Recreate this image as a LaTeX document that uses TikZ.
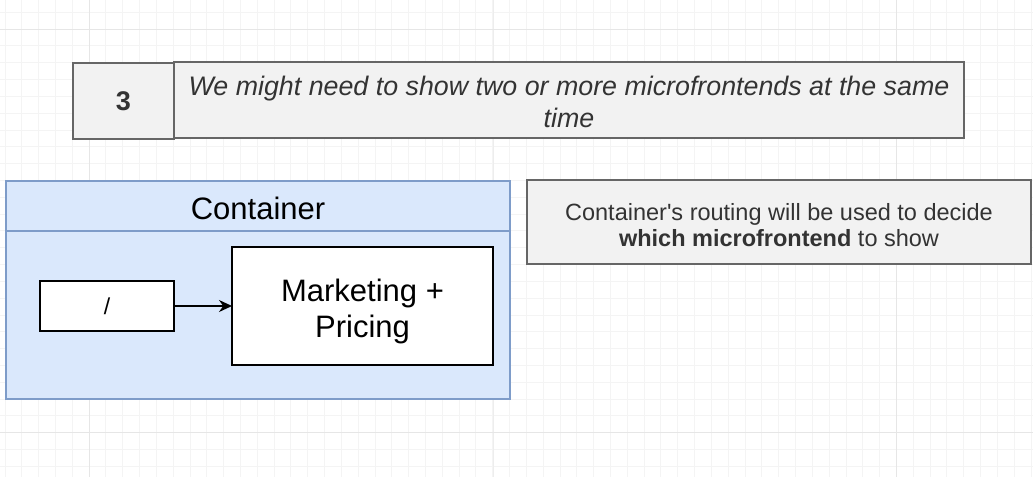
\documentclass[tikz,border=0pt]{standalone}
\usepackage{fontspec}
\setmainfont{Liberation Sans}
\usetikzlibrary{arrows.meta}
\definecolor{gridminor}{HTML}{F4F4F4}
\definecolor{gridmajor}{HTML}{E6E6E6}
\definecolor{gridmid}{HTML}{EDEDED}
\definecolor{greyfill}{HTML}{F2F2F2}
\definecolor{greyline}{HTML}{666666}
\definecolor{bluefill}{HTML}{DAE8FC}
\definecolor{blueline}{HTML}{7E9CC9}
\definecolor{txtgrey}{HTML}{333333}
\tikzset{
  box/.style={rectangle, inner sep=0pt, outer sep=0pt, line width=1.4pt},
  greybox/.style={box, draw=greyline, fill=greyfill, text=txtgrey},
  bluebox/.style={box, draw=blueline, fill=bluefill},
  whitebox/.style={box, draw=black, fill=white},
  lbl/.style={inner sep=0pt, align=center},
}
\begin{document}
\begin{tikzpicture}[x=1pt,y=-1pt]
\useasboundingbox (0,0) rectangle (1033,477);
\fill[white] (0,0) rectangle (1033,477);
% grid
\foreach \i in {0,...,61} {\draw[gridminor, line width=0.8pt] ({4.9+16.82*\i},0) -- ({4.9+16.82*\i},477);}
\foreach \j in {0,...,28} {\draw[gridminor, line width=0.8pt] (0,{12.2+16.82*\j}) -- (1033,{12.2+16.82*\j});}
\foreach \x in {89,896} {\draw[gridmajor, line width=0.8pt] (\x,0) -- (\x,477);}
\draw[gridmid, line width=0.8pt] (493,0) -- (493,477);
\foreach \y in {29,432} {\draw[gridmajor, line width=0.8pt] (0,\y) -- (1033,\y);}
% header
\node[greybox, minimum width=101pt, minimum height=76pt, font={\fontsize{27}{32}\selectfont\bfseries}] (num) at (123.5,101) {3};
\node[greybox, minimum width=790pt, minimum height=76pt] (title) at (569,100) {};
\node[lbl, text=txtgrey, font={\fontsize{26.8}{32}\selectfont\itshape}] (titletext) at ([yshift=-2pt]title.center)
  {We might need to show two or more microfrontends at the same\\ time};
% container
\node[bluebox, minimum width=504pt, minimum height=168pt] (contbody) at (258,315) {};
\node[bluebox, minimum width=504pt, minimum height=50pt] (conthead) at (258,206) {};
\node[lbl, font={\fontsize{31}{36}\selectfont}] (conttext) at ([yshift=-2pt]conthead.center) {Container};
\node[whitebox, minimum width=134pt, minimum height=50pt, font={\fontsize{23}{28}\selectfont}] (slash) at (107,306) {/};
\node[whitebox, minimum width=261pt, minimum height=118pt] (mp) at (362.5,306) {};
\node[lbl, font={\fontsize{31}{36}\selectfont}] (mptext) at ([yshift=-5pt]mp.center) {Marketing +\\ Pricing};
\draw[line width=1.6pt, -{Stealth[length=13pt,width=12pt]}] (slash.east) -- (mp.west |- slash.east);
% note
\node[greybox, minimum width=504pt, minimum height=84pt] (note) at (779,222) {};
\node[lbl, text=txtgrey, font={\fontsize{23.5}{26}\selectfont}] (notetext) at ([yshift=-3pt]note.center)
  {Container\textquotesingle s routing will be used to decide\\ \textbf{which microfrontend} to show};
\end{tikzpicture}
\end{document}
